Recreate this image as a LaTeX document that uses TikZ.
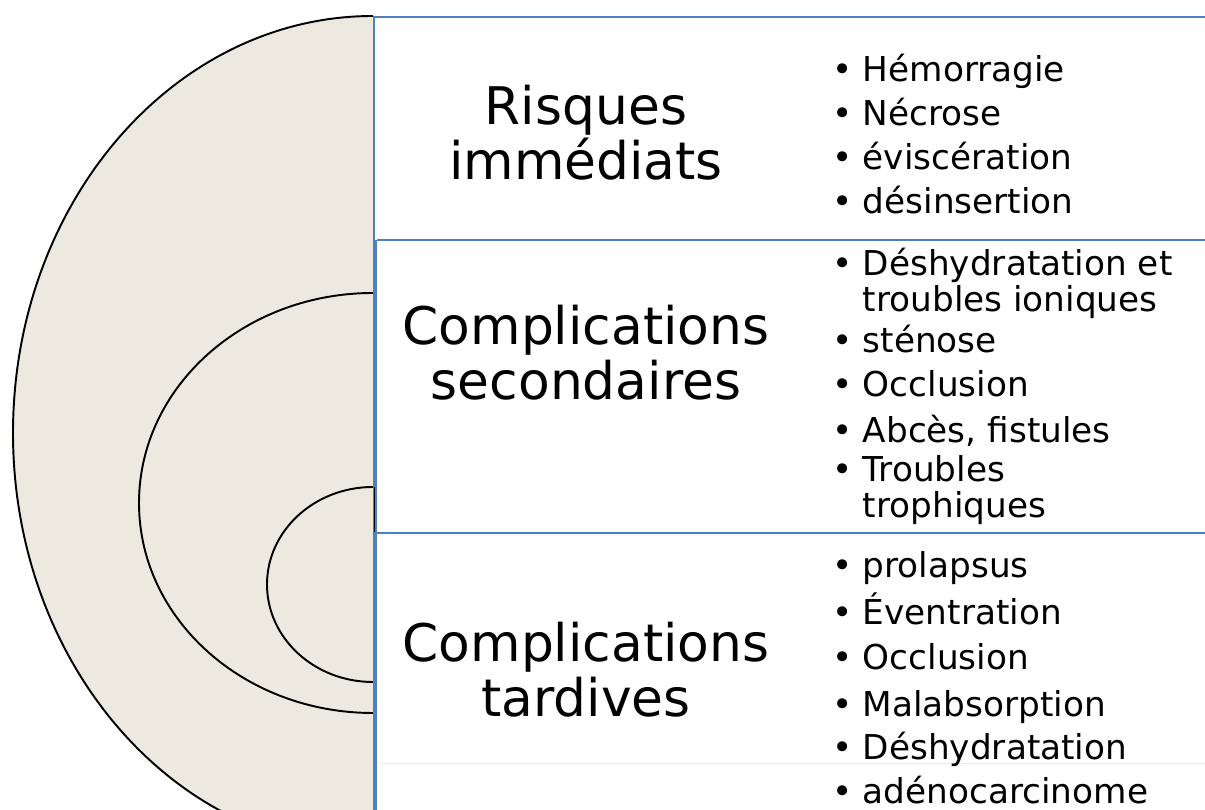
\documentclass[tikz,border=0pt]{standalone}
\usepackage{fontspec}
\setmainfont{DejaVu Sans}
\definecolor{sable}{RGB}{236,233,224}
\definecolor{bordbleu}{RGB}{79,129,189}
\tikzset{
  titre/.style={anchor=base, align=center, inner sep=0pt, font=\fontsize{29.5}{31.5}\selectfont},
  puce/.style={anchor=base west, align=left, inner sep=0pt, font=\fontsize{19.5}{21}\selectfont},
  arc noir/.style={line width=1.1pt},
  bord/.style={draw=bordbleu, line width=1.2pt},
}
\newcommand{\pt}{\textbullet\hspace{0.3em}}
\newcommand{\suite}{\phantom{\textbullet}\hspace{0.3em}}
\begin{document}
\begin{tikzpicture}
    \useasboundingbox (0,0) rectangle (24.1,16.2);
    \clip (0,0) rectangle (24.1,16.2);
    % demi-ellipses
    \fill[sable] (7.46,15.88) arc[start angle=90, end angle=270, x radius=7.2, y radius=8.34] -- cycle;
    \draw[arc noir] (7.46,15.88) arc[start angle=90, end angle=270, x radius=7.2, y radius=8.34];
    \draw[arc noir] (7.46,10.34) arc[start angle=90, end angle=270, x radius=4.68, y radius=4.2];
    \draw[arc noir] (7.46,6.46) arc[start angle=90, end angle=270, x radius=2.12, y radius=1.95];
    % cases
    \draw[bord] (24.1,15.86) -- (7.48,15.86) -- (7.48,11.4);
    \draw[bord, line width=2pt] (7.5,11.4) -- (7.5,0);
    \draw[bord] (7.54,11.4) -- (24.1,11.4);
    \draw[bord] (7.54,5.54) -- (24.1,5.54);
    \draw[black!8] (7.58,0.94) -- (24.1,0.94);
    \draw[arc noir] (7.49,6.46) -- (7.49,5.56);
    % titres (base = derniere ligne)
    \node[titre] (r1) at (11.72,12.6) {Risques\\immédiats};
    \node[titre] (r2) at (11.72,8.2) {Complications\\secondaires};
    \node[titre] (r3) at (11.72,1.86) {Complications\\tardives};
    % risques immediats
    \node[puce] (h1) at (16.64,14.56) {\pt Hémorragie};
    \node[puce] (h2) at (16.64,13.68) {\pt Nécrose};
    \node[puce] (h3) at (16.64,12.80) {\pt éviscération};
    \node[puce] (h4) at (16.64,11.92) {\pt désinsertion};
    % complications secondaires
    \node[puce] (s1) at (16.64,9.96) {\pt Déshydratation et\\\suite troubles ioniques};
    \node[puce] (s2) at (16.64,9.14) {\pt sténose};
    \node[puce] (s3) at (16.64,8.26) {\pt Occlusion};
    \node[puce] (s4) at (16.64,7.34) {\pt Abcès, fistules};
    \node[puce] (s5) at (16.64,5.84) {\pt Troubles\\\suite trophiques};
    % complications tardives
    \node[puce] (t1) at (16.64,4.64) {\pt prolapsus};
    \node[puce] (t2) at (16.64,3.70) {\pt Éventration};
    \node[puce] (t3) at (16.64,2.80) {\pt Occlusion};
    \node[puce] (t4) at (16.64,1.86) {\pt Malabsorption};
    \node[puce] (t5) at (16.64,1.00) {\pt Déshydratation};
    \node[puce] (t6) at (16.64,0.12) {\pt adénocarcinome};
\end{tikzpicture}
\end{document}
